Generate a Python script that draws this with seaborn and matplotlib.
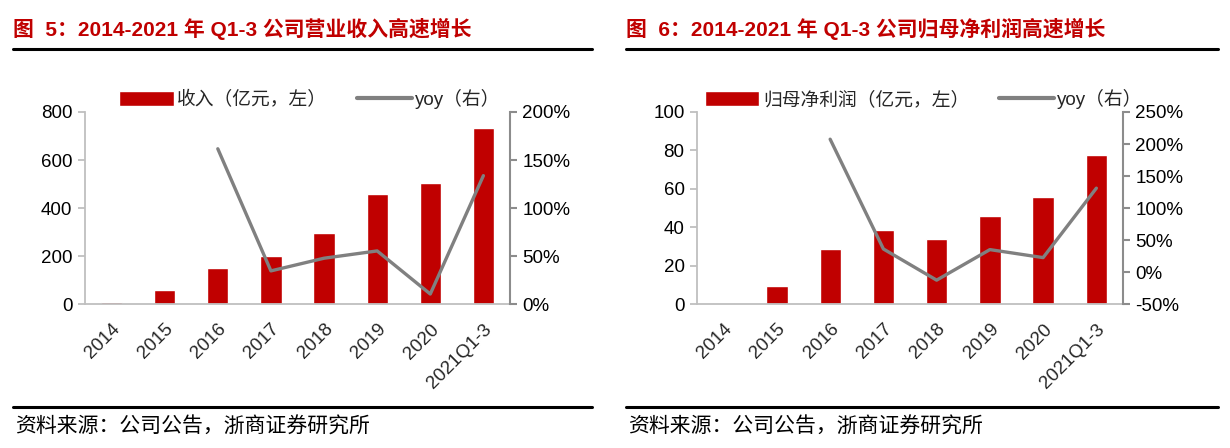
import matplotlib
matplotlib.use("Agg")
import matplotlib.pyplot as plt
import seaborn as sns
import numpy as np
import pandas as pd
from matplotlib.lines import Line2D

# dados
anos = ['2014', '2015', '2016', '2017', '2018', '2019', '2020', '2021Q1-3']
receita = [9, 58, 149, 202, 297, 459, 503, 735]
receita_yoy = [np.nan, np.nan, 161.7, 34.5, 47.7, 55.3, 10.4, 133.7]
lucro = [0.3, 9.5, 28.5, 38.7, 33.7, 45.8, 55.8, 77.5]
lucro_yoy = [np.nan, np.nan, 207.5, 36.0, -12.7, 35.0, 22.5, 131.0]

titulos = ['图  5：2014-2021 年 Q1-3 公司营业收入高速增长',
           '图  6：2014-2021 年 Q1-3 公司归母净利润高速增长']
legendas_barra = ['收入（亿元，左）', '归母净利润（亿元，左）']
fonte = '资料来源：公司公告，浙商证券研究所'

VERMELHO = '#C00000'
CINZA = '#808080'
TAM = 13.5

sns.set_theme(style="white")
plt.rcParams['font.family'] = ['Liberation Sans', 'Noto Sans CJK SC']
plt.rcParams['axes.unicode_minus'] = False


def painel(fig, rect, valores, yoy, leg_barra, ylim, yticks, y2lim, y2ticks, leg_x):
    ax = fig.add_axes(rect)
    df = pd.DataFrame({'ano': anos, 'valor': valores, 'yoy': yoy, 'pos': np.arange(len(anos))})

    # barras
    sns.barplot(data=df, x='ano', y='valor', color=VERMELHO, width=0.4,
                saturation=1, ax=ax, label=leg_barra)
    h1, l1 = ax.get_legend_handles_labels()
    if ax.get_legend() is not None:
        ax.get_legend().remove()

    # linha yoy no eixo da direita
    ax2 = ax.twinx()
    d = df.dropna(subset=['yoy'])
    sns.lineplot(data=d, x='pos', y='yoy', color=CINZA, linewidth=2.4, ax=ax2, legend=False)

    ax.set_xlim(-0.5, len(anos) - 0.5)
    ax.set_ylim(*ylim)
    ax.set_yticks(yticks)
    ax2.set_ylim(*y2lim)
    ax2.set_yticks(y2ticks)
    ax2.set_yticklabels([f'{int(t)}%' for t in y2ticks])
    ax.set_xlabel('')
    ax.set_ylabel('')
    ax2.set_xlabel('')
    ax2.set_ylabel('')

    for s in ['top', 'right']:
        ax.spines[s].set_visible(False)
    for s in ['top', 'left', 'bottom']:
        ax2.spines[s].set_visible(False)
    for s in ['left', 'bottom']:
        ax.spines[s].set_color('#BFBFBF')
        ax.spines[s].set_linewidth(1.3)
    ax2.spines['right'].set_color('#8C8C8C')
    ax2.spines['right'].set_linewidth(1.5)

    ax.tick_params(axis='y', left=True, length=5, width=1.3, color='#BFBFBF',
                   labelsize=TAM, labelcolor='black', pad=4)
    ax.tick_params(axis='x', bottom=False, labelsize=TAM, pad=6)
    ax2.tick_params(axis='y', right=True, length=5, width=1.5, color='#8C8C8C',
                    labelsize=TAM, labelcolor='black', pad=4)
    plt.setp(ax.get_xticklabels(), rotation=45, ha='right', rotation_mode='anchor')

    # legenda
    h2 = [Line2D([], [], color=CINZA, linewidth=3)]
    fig.legend(h1 + h2, l1 + ['yoy（右）'], loc='center', bbox_to_anchor=(leg_x, 0.779),
               ncol=2, frameon=False, fontsize=TAM, handlelength=2.9, handleheight=0.8,
               handletextpad=0.2, columnspacing=1.6)
    return ax


fig = plt.figure(figsize=(12.3, 4.48), dpi=100)

painel(fig, [0.0691, 0.3214, 0.3455, 0.4286], receita, receita_yoy, legendas_barra[0],
       (0, 800), [0, 200, 400, 600, 800], (0, 200), [0, 50, 100, 150, 200], 0.252)
painel(fig, [0.5667, 0.3214, 0.3463, 0.4286], lucro, lucro_yoy, legendas_barra[1],
       (0, 100), [0, 20, 40, 60, 80, 100], (-50, 250), [-50, 0, 50, 100, 150, 200, 250], 0.751)

# títulos, linhas e fonte
for x0, x1, t in [(13, 592, titulos[0]), (626, 1218, titulos[1])]:
    fig.text(x0 / 1230, 1 - 29 / 448, t, color=VERMELHO, fontsize=15, fontweight='bold',
             va='center', ha='left')
    fig.add_artist(Line2D([x0 / 1230, x1 / 1230], [1 - 49 / 448] * 2, color='black', linewidth=2.2))
    fig.add_artist(Line2D([x0 / 1230, x1 / 1230], [1 - 407 / 448] * 2, color='black', linewidth=2.2))
    fig.text((x0 + 2) / 1230, 1 - 427 / 448, fonte, color='black', fontsize=15, va='center', ha='left')

plt.savefig('out.png', dpi=100)
